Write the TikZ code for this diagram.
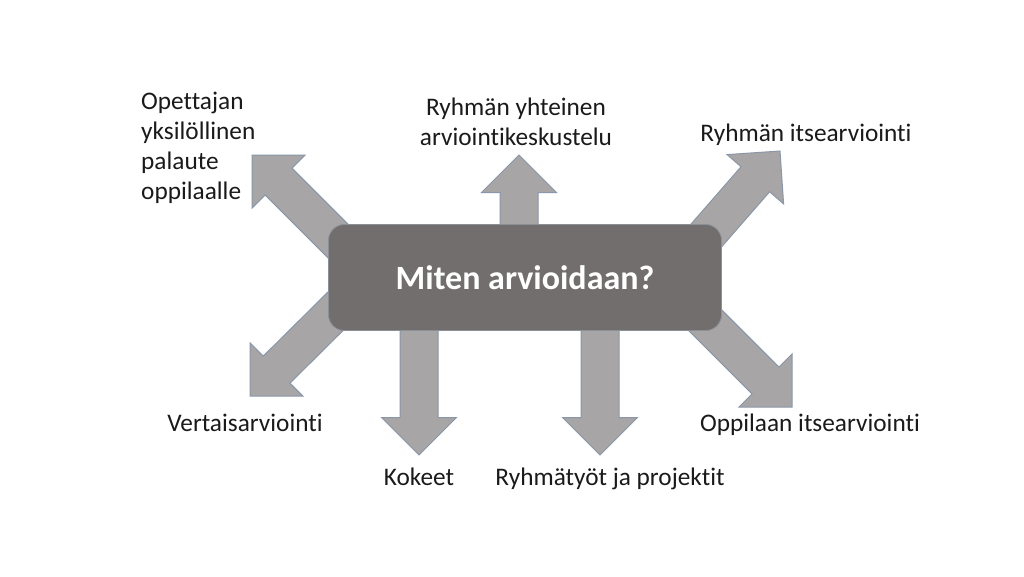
\documentclass[tikz,border=0pt]{standalone}
\usepackage{fontspec}
\setmainfont[Ligatures={NoCommon}]{Carlito}
\usetikzlibrary{calc}
\definecolor{arrowfill}{HTML}{A7A5A5}
\definecolor{arrowline}{HTML}{8A97A8}
\definecolor{boxfill}{HTML}{736E6E}
\definecolor{boxline}{HTML}{8A8F98}
\definecolor{labeltext}{HTML}{1A1A1A}
\tikzset{
  blockarrow/.style={fill=arrowfill, draw=arrowline, line width=1pt, line join=miter},
  centerbox/.style={rectangle, rounded corners=16pt, fill=boxfill, draw=boxline, line width=0.8pt,
    minimum width=393pt, minimum height=106pt, text=white, font=\fontsize{34}{40}\selectfont\bfseries},
  lbl/.style={inner sep=0pt, text=labeltext, font=\fontsize{25.3}{30}\selectfont},
}
\newcommand\blockarrowdraw[2]{%
  \path ($(#2)!37.5pt!(#1)$) coordinate (#2-n);
  \draw[blockarrow] ($(#1)!19pt!-90:(#2)$) -- ($(#2-n)!19pt!-90:(#2)$)
    -- ($(#2-n)!37.5pt!-90:(#2)$) -- (#2) -- ($(#2-n)!37.5pt!90:(#2)$)
    -- ($(#2-n)!19pt!90:(#2)$) -- ($(#1)!19pt!90:(#2)$) -- cycle;}
\begin{document}
\begin{tikzpicture}[x=1pt, y=-1pt]
\useasboundingbox[fill=white] (0,0) rectangle (1024,576);
% arrow tails (hidden behind the box) and tips
\coordinate (tUp) at (519,278);   \coordinate (hUp) at (519,155);
\coordinate (tTL) at (372,275);   \coordinate (hTL) at (252,155);
\coordinate (tTR) at (677,269);   \coordinate (hTR) at (780,151);
\coordinate (tBR) at (690,305);   \coordinate (hBR) at (792,407);
\coordinate (tBL) at (362,285);   \coordinate (hBL) at (250,396);
\coordinate (tD1) at (419,278);   \coordinate (hD1) at (419,455);
\coordinate (tD2) at (600,278);   \coordinate (hD2) at (600,455);
\blockarrowdraw{tUp}{hUp}
\blockarrowdraw{tTL}{hTL}
\blockarrowdraw{tTR}{hTR}
\blockarrowdraw{tBR}{hBR}
\blockarrowdraw{tBL}{hBL}
\blockarrowdraw{tD1}{hD1}
\blockarrowdraw{tD2}{hD2}
\node[centerbox] (center) at (525,277.5) {Miten arvioidaan?};
% labels
\node[lbl, anchor=north west, align=left] (opettaja) at (141,92) {Opettajan\\yksilöllinen\\palaute\\oppilaalle};
\node[lbl, anchor=north, align=center] (yhteinen) at (516,98) {Ryhmän yhteinen\\arviointikeskustelu};
\node[lbl, anchor=base] (ryhmaitse) at (806,141) {Ryhmän itsearviointi};
\node[lbl, anchor=base] (vertais) at (245,431) {Vertaisarviointi};
\node[lbl, anchor=base] (oppilasitse) at (810,431) {Oppilaan itsearviointi};
\node[lbl, anchor=base] (kokeet) at (419,485) {Kokeet};
\node[lbl, anchor=base] (ryhmatyot) at (610,485) {Ryhmätyöt ja projektit};
\end{tikzpicture}
\end{document}
